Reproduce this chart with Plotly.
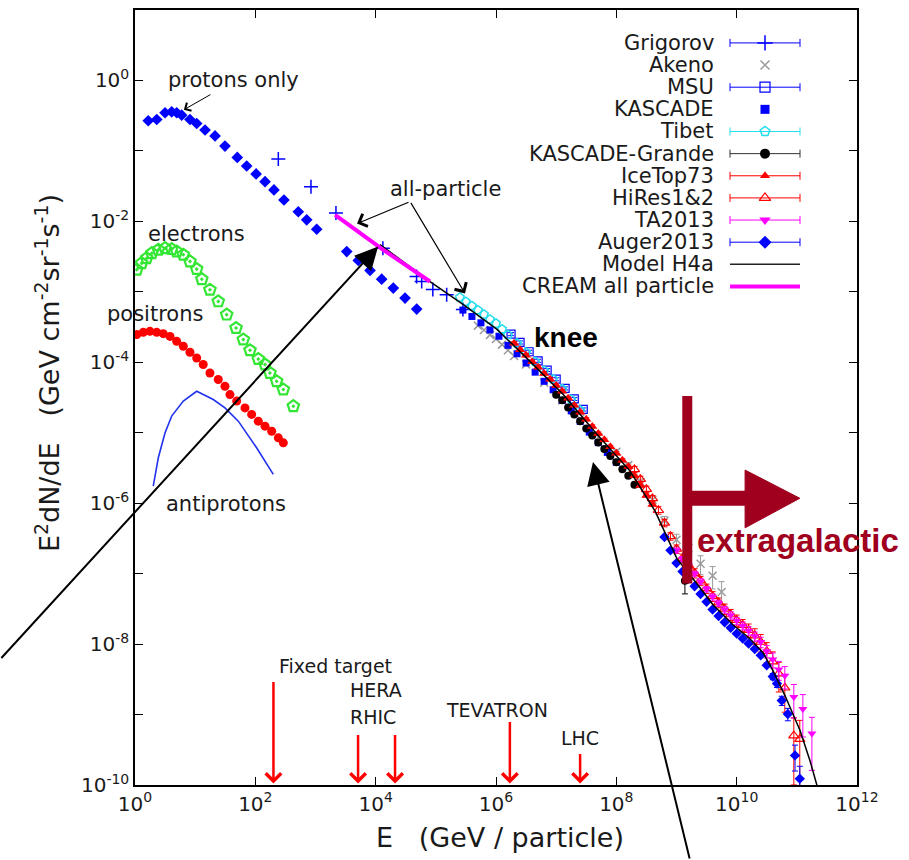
import math
import plotly.graph_objects as go

# ---------------- spectra (E in GeV, E^2 dN/dE in GeV cm^-2 sr^-1 s^-1) ----------------
protons_e = [1.66, 2.30, 3.16, 4.07, 4.93, 5.97, 8.20, 10.6, 14.6, 21.4, 31.3, 50.1, 71.8, 103, 145,
             204, 299, 518, 714, 1047, 3304, 5140, 8054, 12590, 19630, 30760, 48080]
protons_f = [0.268, 0.279, 0.348, 0.359, 0.348, 0.322, 0.279, 0.245, 0.198, 0.163, 0.117, 0.0809,
             0.0611, 0.0471, 0.0366, 0.0279, 0.0201, 0.0137, 0.0105, 0.00773, 0.00373, 0.00279,
             0.00201, 0.00151, 0.00113, 0.000815, 0.000569]

electrons_e = [1.07, 1.29, 1.56, 1.90, 2.44, 3.16, 4.07, 4.93, 6.35, 8.20, 10.6, 12.9, 17.6, 24.2,
               33.4, 47.8, 63.1, 81.5, 112, 145, 175, 226, 292, 428]
electrons_f = [2.06e-3, 2.55e-3, 3.0e-3, 3.53e-3, 3.94e-3, 4.16e-3, 4.03e-3, 3.73e-3, 3.36e-3,
               2.70e-3, 2.10e-3, 1.51e-3, 1.07e-3, 7.31e-4, 4.74e-4, 3.06e-4, 2.10e-4, 1.48e-4,
               1.11e-4, 9.27e-5, 7.05e-5, 5.38e-5, 4.10e-5, 2.38e-5]

positrons_e = [1.07, 1.37, 1.77, 2.30, 2.95, 3.82, 4.93, 6.35, 8.20, 10.6, 13.6, 17.6, 24.2, 31.3,
               37.9, 49.0, 67.3, 86.9, 112, 145, 187, 241, 292]
positrons_f = [2.47e-4, 2.66e-4, 2.75e-4, 2.66e-4, 2.55e-4, 2.33e-4, 1.98e-4, 1.69e-4, 1.39e-4,
               1.15e-4, 9.29e-5, 7.05e-5, 5.69e-5, 4.57e-5, 3.48e-5, 2.81e-5, 2.25e-5, 1.82e-5,
               1.46e-5, 1.24e-5, 1.05e-5, 8.47e-6, 7.19e-6]

antiprotons_e = [2.01, 2.44, 3.16, 4.07, 6.35, 10.6, 20.0, 31.3, 52.1, 105, 199]
antiprotons_f = [1.75e-6, 4.41e-6, 9.98e-6, 1.72e-5, 2.81e-5, 3.88e-5, 2.96e-5, 2.25e-5, 1.46e-5,
                 6.11e-6, 2.56e-6]

grigorov_e = [241, 841, 2188, 13180, 47860, 58210, 89130, 151400, 281800]
grigorov_f = [0.0767, 0.0311, 0.0131, 0.00416, 0.00165, 0.00140, 0.00108, 0.00091, 0.000562]

akeno_low_e = [5.01e5, 6.31e5, 7.94e5, 1.0e6, 1.26e6, 1.58e6, 2.0e6, 3.16e6, 6.31e6, 1.26e7, 2.51e7, 5.01e7]
akeno_low_f = [3.31e-4, 2.88e-4, 2.45e-4, 2.14e-4, 1.78e-4, 1.48e-4, 1.23e-4, 9.33e-5, 5.13e-5,
               2.88e-5, 1.58e-5, 8.71e-6]
akeno_high_e = [1.0e8, 1.58e8, 2.51e8, 3.98e8, 6.31e8, 1.0e9, 1.58e9, 2.51e9, 3.98e9, 5.62e9]
akeno_high_f = [5.37e-6, 3.47e-6, 2.0e-6, 1.12e-6, 5.62e-7, 3.02e-7, 2.29e-7, 1.38e-7, 9.33e-8, 5.50e-8]
akeno_high_err = [0.08, 0.08, 0.10, 0.12, 0.15, 0.20, 0.25, 0.30, 0.35, 0.40]

msu_e = [1.78e6, 2.51e6, 3.55e6, 5.01e6, 7.08e6, 1.0e7, 1.41e7, 2.0e7, 2.82e7]
msu_f = [2.51e-4, 1.91e-4, 1.41e-4, 1.05e-4, 7.76e-5, 5.75e-5, 4.27e-5, 3.02e-5, 2.14e-5]

kascade_e = [2.82e5, 3.98e5, 5.62e5, 7.94e5, 1.12e6, 1.58e6, 2.24e6, 3.16e6, 4.47e6, 6.31e6, 8.91e6,
             1.26e7, 1.78e7, 2.51e7, 3.55e7, 5.01e7, 7.08e7, 1.0e8]
kascade_f = [5.50e-4, 4.47e-4, 3.63e-4, 2.88e-4, 2.34e-4, 1.74e-4, 1.32e-4, 9.77e-5, 7.24e-5, 5.37e-5,
             4.07e-5, 2.88e-5, 2.04e-5, 1.45e-5, 1.02e-5, 7.24e-6, 5.25e-6, 3.80e-6]

tibet_e = [2.51e5, 3.16e5, 3.98e5, 5.01e5, 6.31e5, 7.94e5, 1.0e6, 1.26e6, 1.58e6, 2.24e6, 3.16e6,
           4.47e6, 6.31e6, 8.91e6, 1.26e7, 1.78e7, 2.51e7]
tibet_f = [8.32e-4, 7.24e-4, 6.31e-4, 5.50e-4, 4.79e-4, 4.07e-4, 3.55e-4, 2.95e-4, 2.45e-4, 1.86e-4,
           1.38e-4, 1.02e-4, 7.59e-5, 5.75e-5, 4.17e-5, 2.95e-5, 2.09e-5]

grande_e = [1.0e7, 1.26e7, 1.58e7, 2.0e7, 2.51e7, 3.16e7, 3.98e7, 5.01e7, 6.31e7, 7.94e7, 1.0e8,
            1.26e8, 1.58e8, 2.0e8, 1.38e9]
grande_f = [3.47e-5, 2.88e-5, 2.29e-5, 1.82e-5, 1.45e-5, 1.15e-5, 9.12e-6, 7.24e-6, 5.89e-6, 4.68e-6,
            3.80e-6, 3.02e-6, 2.45e-6, 1.82e-6, 7.94e-8]
grande_err = [0.04] * 14 + [0.35]

icetop_e = [2.0e6, 2.51e6, 3.16e6, 3.98e6, 5.01e6, 6.31e6, 7.94e6, 1.0e7, 1.26e7, 1.58e7, 2.0e7,
            2.51e7, 3.16e7, 3.98e7, 5.01e7, 6.31e7, 7.94e7, 1.0e8, 1.26e8, 1.58e8, 2.0e8, 2.51e8,
            3.16e8, 3.98e8]
icetop_f = [1.86e-4, 1.51e-4, 1.26e-4, 1.02e-4, 8.51e-5, 6.92e-5, 5.75e-5, 4.68e-5, 3.89e-5, 3.09e-5,
            2.45e-5, 1.95e-5, 1.55e-5, 1.23e-5, 9.77e-6, 7.94e-6, 6.31e-6, 5.13e-6, 4.07e-6, 3.31e-6,
            2.45e-6, 1.78e-6, 1.29e-6, 9.55e-7]

hires_e = [2.0e8, 2.51e8, 3.16e8, 3.98e8, 5.01e8, 6.31e8, 7.94e8, 1.0e9, 1.26e9, 1.58e9, 2.0e9,
           2.51e9, 3.16e9, 3.98e9, 5.01e9, 6.31e9, 7.94e9, 1.0e10, 1.26e10, 1.58e10, 2.0e10, 2.51e10,
           3.16e10, 3.98e10, 5.01e10, 6.31e10, 8.91e10, 1.12e11]
hires_f = [3.02e-6, 2.19e-6, 1.58e-6, 1.17e-6, 7.94e-7, 5.25e-7, 3.39e-7, 2.24e-7, 1.66e-7, 1.32e-7,
           1.02e-7, 7.94e-8, 6.17e-8, 4.79e-8, 3.89e-8, 3.16e-8, 2.63e-8, 2.19e-8, 1.86e-8, 1.58e-8,
           1.32e-8, 1.07e-8, 7.94e-9, 5.62e-9, 3.80e-9, 2.40e-9, 5.01e-10, 4.47e-10]
hires_err = [0.10, 0.10, 0.10, 0.10, 0.12, 0.12, 0.12, 0.14, 0.14, 0.14, 0.15, 0.15, 0.15, 0.16,
             0.16, 0.17, 0.18, 0.18, 0.20, 0.22, 0.25, 0.28, 0.32, 0.38, 0.45, 0.55, 0.80, 0.85]

ta_e = [1.0e9, 1.26e9, 1.58e9, 2.0e9, 2.51e9, 3.16e9, 3.98e9, 5.01e9, 6.31e9, 7.94e9, 1.0e10,
        1.26e10, 1.58e10, 2.0e10, 2.51e10, 3.16e10, 3.98e10, 5.01e10, 6.31e10, 8.91e10, 1.26e11, 1.78e11]
ta_f = [2.14e-7, 1.62e-7, 1.29e-7, 1.0e-7, 7.76e-8, 6.03e-8, 4.68e-8, 3.80e-8, 3.09e-8, 2.57e-8,
        2.14e-8, 1.82e-8, 1.55e-8, 1.29e-8, 1.07e-8, 7.94e-9, 6.03e-9, 4.37e-9, 3.55e-9, 1.78e-9,
        1.20e-9, 5.37e-10]
ta_err = [0.08, 0.08, 0.08, 0.08, 0.09, 0.09, 0.10, 0.10, 0.11, 0.12, 0.12, 0.13, 0.14, 0.15,
          0.17, 0.20, 0.24, 0.30, 0.35, 0.50, 0.60, 0.70]

auger_e = [6.31e8, 7.94e8, 1.0e9, 1.26e9, 1.58e9, 2.0e9, 2.51e9, 3.16e9, 3.98e9, 5.01e9, 6.31e9,
           7.94e9, 1.0e10, 1.26e10, 1.58e10, 2.0e10, 2.51e10, 3.16e10, 3.98e10, 4.68e10, 5.62e10,
           7.08e10, 9.33e10, 1.12e11]
auger_f = [3.31e-7, 2.14e-7, 1.41e-7, 1.07e-7, 8.51e-8, 6.61e-8, 5.13e-8, 3.98e-8, 3.09e-8, 2.51e-8,
           2.04e-8, 1.70e-8, 1.41e-8, 1.20e-8, 1.02e-8, 8.51e-9, 6.92e-9, 5.01e-9, 3.47e-9, 2.75e-9,
           1.58e-9, 1.02e-9, 2.63e-10, 1.23e-10]
auger_err = [0.04] * 18 + [0.10, 0.12, 0.15, 0.20, 0.40, 0.50]

h4a_e = [1.18e4, 8.00e4, 2.83e5, 1.04e6, 3.67e6, 1.30e7, 4.76e7, 1.69e8, 4.39e8, 1.02e9, 2.19e9,
         4.04e9, 8.69e9, 1.66e10, 2.74e10, 4.01e10, 6.35e10, 1.13e11, 1.65e11, 2.16e11]
h4a_f = [4.69e-3, 1.40e-3, 6.64e-4, 2.93e-4, 1.03e-4, 3.52e-5, 9.55e-6, 2.86e-6, 7.76e-7, 1.62e-7,
         7.18e-8, 3.61e-8, 1.88e-8, 1.19e-8, 7.55e-9, 4.20e-9, 1.86e-9, 5.93e-10, 2.23e-10, 9.86e-11]

cream_e = [2.11e3, 1.34e4, 8.0e4]
cream_f = [1.24e-2, 3.94e-3, 1.40e-3]

# accelerator reach (GeV, fixed-target equivalent)
accel_names = ["Fixed target", "HERA", "RHIC", "TEVATRON", "LHC"]
accel_e = [2.0e2, 5.1e3, 2.1e4, 1.7e6, 2.5e7]

# boundary of the extragalactic component
extragal_e = 1.51e9

# ---------------- styling ----------------
BLUE = "#0000FF"
RED = "#FF0000"
MAGENTA = "#FF00FF"
CYAN = "#22DDEE"
GREEN = "#33E633"
GRAY = "#9A9A9A"
DARKRED = "#A0001E"
FONT = "DejaVu Sans"
TXT = "#1a1a1a"

fig = go.Figure()


def errs(values, fracs):
    return [v * f for v, f in zip(values, fracs)]


def add_points(e, f, symbol, color, size, lw=1.5, err=None):
    marker = dict(symbol=symbol, size=size, color=color,
                  line=dict(color=color, width=lw))
    tr = go.Scatter(x=e, y=f, mode="markers", marker=marker, showlegend=False,
                    hoverinfo="skip")
    if err is not None:
        tr.error_y = dict(type="data", array=err, arrayminus=err, color=color,
                          thickness=1, width=3)
    fig.add_trace(tr)


# low-energy species
add_points(protons_e, protons_f, "diamond", BLUE, 9, lw=0)
add_points(electrons_e, electrons_f, "pentagon-open-dot", GREEN, 12, lw=2.2)
add_points(positrons_e, positrons_f, "circle", RED, 9, lw=0)
fig.add_trace(go.Scatter(x=antiprotons_e, y=antiprotons_f, mode="lines",
                         line=dict(color="#2233EE", width=1.6), showlegend=False,
                         hoverinfo="skip"))

# all-particle data
add_points(grigorov_e, grigorov_f, "cross-thin", BLUE, 10, lw=1.5)
add_points(akeno_low_e, akeno_low_f, "x-thin", GRAY, 8, lw=1.5)
add_points(akeno_high_e, akeno_high_f, "x-thin", GRAY, 8, lw=1.5,
           err=errs(akeno_high_f, akeno_high_err))
add_points(msu_e, msu_f, "square-open", BLUE, 8, lw=1.2, err=errs(msu_f, [0.05] * len(msu_f)))
add_points(kascade_e, kascade_f, "square", BLUE, 7, lw=0)
add_points(tibet_e, tibet_f, "pentagon-open", CYAN, 9, lw=1.5)
add_points(grande_e, grande_f, "circle", "black", 8, lw=0, err=errs(grande_f, grande_err))
add_points(icetop_e, icetop_f, "triangle-up", RED, 9, lw=0, err=errs(icetop_f, [0.05] * len(icetop_f)))
add_points(hires_e, hires_f, "triangle-up-open", RED, 9, lw=1.2, err=errs(hires_f, hires_err))
add_points(ta_e, ta_f, "triangle-down", MAGENTA, 8, lw=0, err=errs(ta_f, ta_err))
add_points(auger_e, auger_f, "diamond", BLUE, 8, lw=0, err=errs(auger_f, auger_err))

fig.add_trace(go.Scatter(x=h4a_e, y=h4a_f, mode="lines", line=dict(color="black", width=1.5),
                         showlegend=False, hoverinfo="skip"))
fig.add_trace(go.Scatter(x=cream_e, y=cream_f, mode="lines", line=dict(color=MAGENTA, width=4),
                         showlegend=False, hoverinfo="skip"))

# extragalactic marker: vertical bar, horizontal shaft and arrow head
fig.add_trace(go.Scatter(x=[extragal_e, extragal_e], y=[10 ** -4.48, 10 ** -7.14], mode="lines",
                         line=dict(color=DARKRED, width=10), showlegend=False, hoverinfo="skip"))
fig.add_trace(go.Scatter(x=[extragal_e, 10 ** 10.16], y=[10 ** -5.93, 10 ** -5.93], mode="lines",
                         line=dict(color=DARKRED, width=15), showlegend=False, hoverinfo="skip"))
fig.add_trace(go.Scatter(x=[10 ** 10.14, 10 ** 11.05, 10 ** 10.14, 10 ** 10.14],
                         y=[10 ** -5.53, 10 ** -5.93, 10 ** -6.35, 10 ** -5.53],
                         mode="lines", fill="toself", fillcolor=DARKRED,
                         line=dict(color=DARKRED, width=1), showlegend=False, hoverinfo="skip"))

# ---------------- key (text left, sample right) ----------------
key_rows = [
    ("Grigorov", dict(symbol="cross-thin", size=11, color=BLUE, line=dict(color=BLUE, width=1.5)), BLUE, True),
    ("Akeno", dict(symbol="x-thin", size=9, color=GRAY, line=dict(color=GRAY, width=1.5)), GRAY, False),
    ("MSU", dict(symbol="square-open", size=10, color=BLUE, line=dict(color=BLUE, width=1.2)), BLUE, True),
    ("KASCADE", dict(symbol="square", size=9, color=BLUE), BLUE, False),
    ("Tibet", dict(symbol="pentagon-open", size=10, color=CYAN, line=dict(color=CYAN, width=1.5)), CYAN, True),
    ("KASCADE-Grande", dict(symbol="circle", size=10, color="black"), "#333333", True),
    ("IceTop73", dict(symbol="triangle-up", size=9, color=RED), RED, True),
    ("HiRes1&2", dict(symbol="triangle-up-open", size=10, color=RED, line=dict(color=RED, width=1.2)), RED, True),
    ("TA2013", dict(symbol="triangle-down", size=10, color=MAGENTA), MAGENTA, True),
    ("Auger2013", dict(symbol="diamond", size=10, color=BLUE), BLUE, True),
    ("Model H4a", None, "#222222", 1.5),
    ("CREAM all particle", None, MAGENTA, 4),
]
key_top = (785 - 41) / 777
key_step = 22.2 / 777
key_x0, key_x1 = (730 - 135) / 722, (800 - 135) / 722
key_xc = (key_x0 + key_x1) / 2
key_text_x = (716 - 135) / 722

annotations = []
for i, (label_text, marker, color, extra) in enumerate(key_rows):
    yk = key_top - i * key_step
    annotations.append(dict(xref="paper", yref="paper", x=key_text_x, y=yk, text=label_text,
                            showarrow=False, xanchor="right", yanchor="middle",
                            font=dict(family=FONT, size=21, color=TXT)))
    if marker is None:
        fig.add_trace(go.Scatter(x=[key_x0, key_x1], y=[yk, yk], mode="lines", xaxis="x2", yaxis="y2",
                                 line=dict(color=color, width=extra), showlegend=False,
                                 hoverinfo="skip", cliponaxis=False))
    else:
        tr = go.Scatter(x=[key_xc], y=[yk], mode="markers", marker=marker, xaxis="x2", yaxis="y2",
                        showlegend=False, hoverinfo="skip", cliponaxis=False)
        if extra:
            tr.error_x = dict(type="constant", value=(key_x1 - key_x0) / 2, color=color,
                              thickness=1, width=4)
        fig.add_trace(tr)

# ---------------- labels and arrows ----------------
L = math.log10


def label(e, f, text, size=21, color=TXT, bold=False, anchor="center", family=FONT):
    t = f"<b>{text}</b>" if bold else text
    annotations.append(dict(x=L(e), y=L(f), text=t, showarrow=False, xanchor=anchor,
                            yanchor="middle", font=dict(family=family, size=size, color=color)))


def arrow(e, f, ax, ay, color="black", width=1.0, head=2, hsize=1.0):
    annotations.append(dict(x=L(e), y=L(f), ax=ax, ay=ay, text="", showarrow=True,
                            arrowhead=head, arrowsize=hsize, arrowwidth=width,
                            arrowcolor=color, standoff=0))


label(43, 1.0, "protons only")
label(10.7, 6.7e-3, "electrons")
label(2.15, 4.8e-4, "positrons")
label(32.5, 9.75e-7, "antiprotons")
label(1.42e5, 2.92e-2, "all-particle")
label(1.46e7, 2.26e-4, "knee", size=28, color="black", bold=True, family="Liberation Sans")
label(2.03e9, 2.92e-7, "extragalactic", size=33, color=DARKRED, bold=True, anchor="left",
      family="Liberation Sans")

arrow(6.5, 0.384, 28, -16, width=1.0, head=4, hsize=1.8)
arrow(4.9e3, 9.3e-3, 53, -22, width=1.2, head=4, hsize=2.2)
arrow(3.05e5, 9.5e-4, -55, -92, width=1.2, head=4, hsize=2.2)

# long pointer arrows
arrow(0.708, 0.213, -145, 33, width=2, head=2, hsize=2.3)
arrow(1.1e4, 4.4e-3, -385, 413, width=2, head=2, hsize=2.3)
arrow(4.09e7, 3.84e-6, 97, 400, width=2, head=2, hsize=2.3)

# accelerators
accel_tops = [-103, -50, -50, -63, -31]
accel_label_pos = [(2.11e3, 4.94e-9), (1.01e4, 2.2e-9), (9.0e3, 9.1e-10), (1.04e6, 1.15e-9),
                   (2.49e7, 4.7e-10)]
for name, e, ay, (lx, ly) in zip(accel_names, accel_e, accel_tops, accel_label_pos):
    arrow(e, 1.05e-10, 0, ay, color=RED, width=2.5, head=4, hsize=1.2)
    label(lx, ly, name, size=19)

# axis titles
annotations.append(dict(xref="paper", yref="paper", x=(500 - 135) / 722, y=(785 - 838) / 777,
                        text="E\u00a0\u00a0\u00a0(GeV / particle)", showarrow=False,
                        xanchor="center", yanchor="middle",
                        font=dict(family=FONT, size=27, color=TXT)))
annotations.append(dict(xref="paper", yref="paper", x=(47 - 135) / 722, y=(785 - 372) / 777,
                        text="E<sup>2</sup>dN/dE\u00a0\u00a0\u00a0(GeV cm<sup>-2</sup>sr<sup>-1</sup>s<sup>-1</sup>)",
                        showarrow=False, textangle=-90, xanchor="center", yanchor="middle",
                        font=dict(family=FONT, size=27, color=TXT)))

x_ticks = [10 ** k for k in range(0, 13, 2)]
x_text = [f"10<sup>{k}</sup>" for k in range(0, 13, 2)]
y_ticks = [10 ** k for k in range(-10, 2)]
y_text = [f"10<sup>{k}</sup>" if k % 2 == 0 and k <= 0 else "" for k in range(-10, 2)]

axis_common = dict(showline=True, linecolor="black", linewidth=1.5, mirror="ticks",
                   ticks="inside", ticklen=8, tickwidth=1.3, tickcolor="black",
                   showgrid=False, zeroline=False,
                   tickfont=dict(family=FONT, size=20, color=TXT))

fig.update_layout(
    width=909, height=860,
    margin=dict(l=135, r=52, t=8, b=75),
    paper_bgcolor="white", plot_bgcolor="white",
    font=dict(family=FONT, size=21, color=TXT),
    xaxis=dict(type="log", range=[0, 12], tickvals=x_ticks, ticktext=x_text, **axis_common),
    yaxis=dict(type="log", range=[-10, 1], tickvals=y_ticks, ticktext=y_text, **axis_common),
    xaxis2=dict(overlaying="x", range=[0, 1], visible=False, anchor="y2"),
    yaxis2=dict(overlaying="y", range=[0, 1], visible=False, anchor="x2"),
    annotations=annotations,
    showlegend=False,
)

fig.write_html("out.html")
